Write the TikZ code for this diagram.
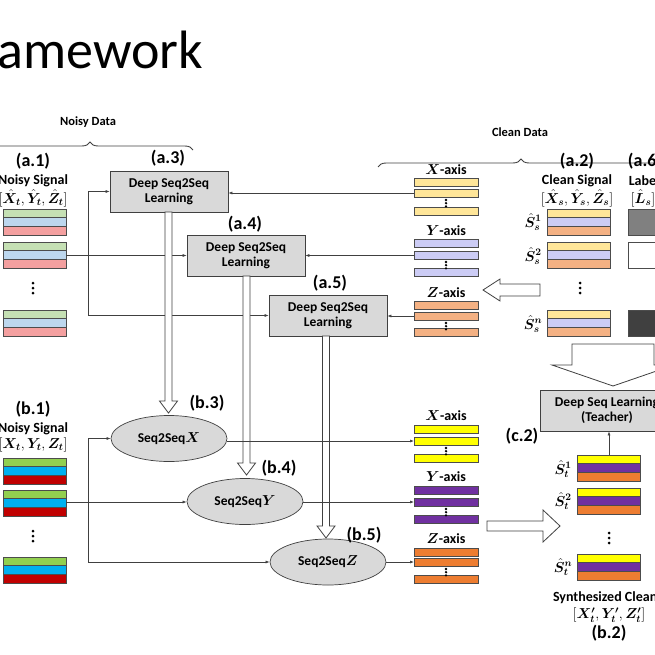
\documentclass[tikz,border=0pt]{standalone}
\usepackage{amsmath,bm}
\usepackage{fontspec}
\setmainfont{Carlito}
\usetikzlibrary{decorations.pathreplacing,shapes.geometric,arrows.meta,calc}
\definecolor{lg}{HTML}{C5E0B4}\definecolor{lb}{HTML}{BDD7EE}\definecolor{lr}{HTML}{F4A0A0}
\definecolor{ly}{HTML}{FFE699}\definecolor{lp}{HTML}{CCCCF5}\definecolor{lo}{HTML}{F4B183}
\definecolor{sg}{HTML}{92D050}\definecolor{sb}{HTML}{00B0F0}\definecolor{sr}{HTML}{C00000}
\definecolor{sy}{HTML}{FFFF00}\definecolor{sp}{HTML}{7030A0}\definecolor{so}{HTML}{ED7D31}
\definecolor{lnc}{HTML}{404040}
\newcommand\mystack[5]{% x y c1 c2 c3 (26 high, 63 wide)
 \draw[bar,fill=#3] (#1,#2) rectangle ++(63,8.7);
 \draw[bar,fill=#4] (#1,#2+8.7) rectangle ++(63,8.7);
 \draw[bar,fill=#5] (#1,#2+17.4) rectangle ++(63,8.6);}
\newcommand\myaxis[5]{% x y1 y2 y3 color
 \draw[bar,fill=#5] (#1,#2) rectangle ++(64,8.5);
 \draw[bar,fill=#5] (#1,#3) rectangle ++(64,8.5);
 \draw[bar,fill=#5] (#1,#4) rectangle ++(64,8.5);
 \foreach \k in {0,1,2}{\fill ($(#1+32,#3+11)+(0,\k*3.2)$) circle (1.3);}}
\newcommand\mydots{}
\renewcommand\mydots[2]{\foreach \k in {0,1,2}{\fill (#1,#2+\k*5) circle (1.5);}}
\newcommand\hdown[6]{% x ytop ytip shaftw headw headlen
 \draw[hol] (#1-#4/2,#2) -- (#1+#4/2,#2) -- (#1+#4/2,#3-#6) -- (#1+#5/2,#3-#6) -- (#1,#3)
  -- (#1-#5/2,#3-#6) -- (#1-#4/2,#3-#6) -- cycle;}
\begin{document}
\begin{tikzpicture}[x=1pt,y=-1pt,
 bar/.style={draw=black!70,line width=0.5pt},
 hol/.style={draw=lnc,fill=white,line width=0.8pt},
 box/.style={draw=lnc,fill=black!15,line width=0.7pt,minimum width=118pt,minimum height=41pt,align=center,inner sep=1pt,font=\fontsize{13.5}{15}\selectfont\bfseries},
 ell/.style={ellipse,draw=lnc,fill=black!15,line width=0.7pt,minimum width=116pt,minimum height=46pt,inner sep=1pt,font=\fontsize{13.5}{15}\selectfont\bfseries},
 lab/.style={font=\fontsize{18}{20}\selectfont\bfseries},
 sub/.style={font=\fontsize{14}{16}\selectfont\bfseries},
 ax/.style={font=\fontsize{14}{16}\selectfont\bfseries},
 arr/.style={draw=lnc,line width=0.6pt,-{Latex[length=4pt,width=3pt]}},
 ln/.style={draw=lnc,line width=0.6pt}]
\useasboundingbox (0,0) rectangle (655,655);
\node[anchor=west,font=\fontsize{54}{58}\selectfont] (title) at (-6,50) {amework};
% braces
\draw[ln,line width=0.9pt,decorate,decoration={brace,amplitude=8pt}] (-13,150) -- (193,150);
\node[font=\fontsize{12.5}{14}\selectfont\bfseries] (nd) at (88,122) {Noisy Data};
\draw[ln,line width=0.9pt,decorate,decoration={brace,amplitude=8pt}] (378,167) -- (664,167);
\node[font=\fontsize{12.5}{14}\selectfont\bfseries] (cd) at (520,132) {Clean Data};
% a.1
\node[lab] (a1) at (33,161) {(a.1)};
\node[sub] (a1s) at (33,181) {Noisy Signal};
\node[sub] (a1m) at (33,198) {$[\bm{\hat X_t},\bm{\hat Y_t},\bm{\hat Z_t}]$};
\mystack{3}{209}{lg}{lb}{lr}
\mystack{3}{242}{lg}{lb}{lr}
\mydots{33}{283}
\mystack{3}{310}{lg}{lb}{lr}
% boxes
\node[lab] (a3l) at (168,158) {(a.3)};
\node[box] (a3) at (169,191.5) {Deep Seq2Seq\\Learning};
\node[lab] (a4l) at (245,224) {(a.4)};
\node[box] (a4) at (246,255.5) {Deep Seq2Seq\\Learning};
\node[lab] (a5l) at (330,283) {(a.5)};
\node[box] (a5) at (328,315.5) {Deep Seq2Seq\\Learning};
\coordinate (n2) at (66,255.5);
\coordinate (jt) at (88,191.5);
\coordinate (jb) at (88,315.5);
\draw[arr] (n2) -- (a4.west);
\draw[ln] (jt) -- (jb);
\draw[arr] (jt) -- (a3.west);
\draw[arr] (jb) -- (a5.west);
% clean axes
\node[ax] (cxl) at (446,170) {$\bm{X}$-axis};
\myaxis{414}{178}{189}{207}{ly}
\node[ax] (cyl) at (446,231) {$\bm{Y}$-axis};
\myaxis{414}{239}{251}{268}{lp}
\node[ax] (czl) at (446,293) {$\bm{Z}$-axis};
\myaxis{414}{301}{312}{328}{lo}
\coordinate (cx) at (414,193);\coordinate (cy) at (414,255.5);\coordinate (cz) at (414,316);
\draw[arr] (cx) -- (cx -| a3.east);
\draw[arr] (cy) -- (cy -| a4.east);
\draw[arr] (cz) -- (cz -| a5.east);
% hollow left arrow
\draw[hol] (540,284) -- (500,284) -- (500,279) -- (483,290) -- (500,301) -- (500,296) -- (540,296) -- cycle;
% a.2
\node[lab] (a2) at (577,161) {(a.2)};
\node[sub] (a2s) at (577,181) {Clean Signal};
\node[sub] (a2m) at (577,198) {$[\bm{\hat X_s},\bm{\hat Y_s},\bm{\hat Z_s}]$};
\mystack{547}{209}{ly}{lp}{lo}
\mystack{547}{242}{ly}{lp}{lo}
\mydots{580}{283}
\mystack{547}{310}{ly}{lp}{lo}
\node[sub] (ss1) at (533,222) {$\bm{\hat S_s^1}$};
\node[sub] (ss2) at (533,256) {$\bm{\hat S_s^2}$};
\node[sub] (ssn) at (533,324) {$\bm{\hat S_s^n}$};
\node[lab] (a6) at (645,161) {(a.6)};
\node[sub] (a6s) at (647,181) {Labels};
\node[sub] (a6m) at (643,198) {$[\bm{\hat L_s}]$};
\draw[bar,fill=black!50] (628,209) rectangle (660,235);
\draw[bar,fill=white] (628,242) rectangle (660,268);
\draw[bar,fill=black!75] (628,310) rectangle (660,336);
% big arrow down
\draw[hol] (572,344) -- (654,344) -- (654,365) -- (674,365) -- (613,386) -- (552,365) -- (572,365) -- cycle;
\node[box,minimum width=134pt,minimum height=41pt] (tch) at (607,410.5) {Deep Seq Learning\\(Teacher)};
% hollow down arrows
\hdown{168.5}{212}{413}{7}{18}{12}
\hdown{246.5}{276}{475}{7}{18}{12}
\hdown{326}{336}{538}{7}{18}{12}
% b.1
\node[lab] (b1) at (33,409) {(b.1)};
\node[sub] (b1s) at (33,429) {Noisy Signal};
\node[sub] (b1m) at (33,445) {$[\bm{X_t},\bm{Y_t},\bm{Z_t}]$};
\mystack{3}{458}{sg}{sb}{sr}
\mystack{3}{490}{sg}{sb}{sr}
\mydots{33}{531}
\mystack{3}{557}{sg}{sb}{sr}
% ellipses
\node[ell] (b3) at (169,438.5) {Seq2Seq$\bm{X}$};
\node[lab] (b3l) at (207,403) {(b.3)};
\node[ell] (b4) at (245,501.5) {Seq2Seq$\bm{Y}$};
\node[lab] (b4l) at (279,468) {(b.4)};
\node[ell] (b5) at (328,562) {Seq2Seq$\bm{Z}$};
\node[lab] (b5l) at (364,535) {(b.5)};
\coordinate (m2) at (66,502);
\coordinate (kt) at (88,438.5);
\coordinate (kb) at (88,562);
\draw[arr] (m2) -- (m2 -| b4.west);
\draw[ln] (kt) -- (kb);
\draw[arr] (kt) -- (b3.west);
\draw[arr] (kb) -- (b5.west);
% synth axes
\node[ax] (sxl) at (446,416) {$\bm{X}$-axis};
\myaxis{414}{425}{437}{454}{sy}
\node[ax] (syl) at (446,477) {$\bm{Y}$-axis};
\myaxis{414}{486}{498}{515}{sp}
\node[ax] (szl) at (446,539) {$\bm{Z}$-axis};
\myaxis{414}{548}{558}{575}{so}
\coordinate (sx) at (414,441);\coordinate (sy) at (414,502);\coordinate (sz) at (414,562);
\draw[arr] (b3.east |- sx) -- (sx);
\draw[arr] (b4.east |- sy) -- (sy);
\draw[arr] (b5.east |- sz) -- (sz);
% right hollow arrow
\draw[hol] (487,521) -- (543,521) -- (543,510) -- (560,526) -- (543,542) -- (543,531) -- (487,531) -- cycle;
\node[lab] (c2) at (522,436) {(c.2)};
\mystack{577}{455}{sy}{sp}{so}
\mystack{577}{488}{sy}{sp}{so}
\mydots{609}{533}
\mystack{577}{554}{sy}{sp}{so}
\node[sub] (st1) at (563,469) {$\bm{\hat S_t^1}$};
\node[sub] (st2) at (563,501) {$\bm{\hat S_t^2}$};
\node[sub] (stn) at (563,567) {$\bm{\hat S_t^n}$};
\coordinate (st1t) at (609,455);
\draw[arr] (st1t) -- (st1t |- tch.south);
\node[font=\fontsize{14}{16}\selectfont\bfseries] (b2s) at (624,598) {Synthesized Clean Signal};
\node[sub] (b2m) at (609,615) {$[\bm{X'_t},\bm{Y'_t},\bm{Z'_t}]$};
\node[lab] (b2) at (609,633) {(b.2)};
\end{tikzpicture}
\end{document}
